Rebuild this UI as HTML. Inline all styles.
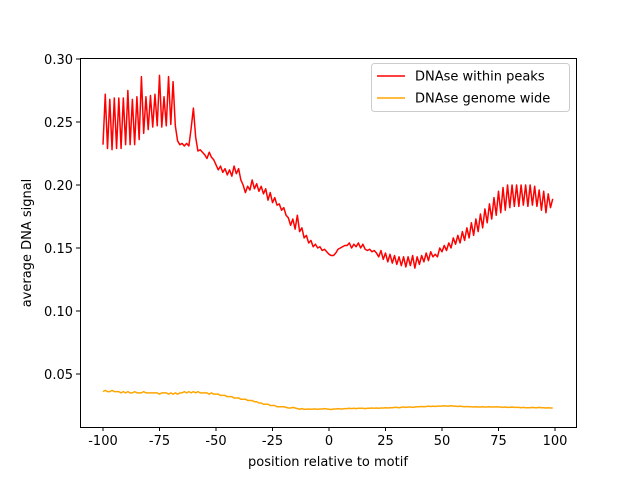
<!DOCTYPE html>
<html><head><meta charset="utf-8"><style>
body{margin:0;background:#fff}
svg text{font-family:"DejaVu Sans","Liberation Sans",sans-serif;font-size:13px;fill:#000}
</style></head><body>
<svg id="chart" width="640" height="480" xmlns="http://www.w3.org/2000/svg">
<g id="axes"></g>
<g id="series"></g>
<g id="legend">
<rect x="371.5" y="63.5" width="198" height="48" rx="3" fill="#fff" stroke="#ccc"/>
<line x1="377" y1="76" x2="405" y2="76" stroke="red" stroke-width="1.5"/>
<text x="415" y="80.5">DNAse within peaks</text>
<line x1="377" y1="98" x2="405" y2="98" stroke="orange" stroke-width="1.5"/>
<text x="415" y="102.5">DNAse genome wide</text>
</g>
<text x="328" y="466" text-anchor="middle">position relative to motif</text>
<text transform="translate(31,243) rotate(-90)" text-anchor="middle">average DNA signal</text>
</svg>
<script>
const xTicks=[-100,-75,-50,-25,0,25,50,75,100];
const yTicks=[0.05,0.10,0.15,0.20,0.25,0.30];
const yTickLabels=["0.05","0.10","0.15","0.20","0.25","0.30"];
const peaksSignal=[0.232,0.272,0.229,0.268,0.228,0.269,0.229,0.269,0.229,0.269,0.232,0.275,0.232,0.268,0.232,0.270,0.236,0.286,0.241,0.270,0.244,0.271,0.246,0.272,0.247,0.287,0.246,0.270,0.247,0.286,0.248,0.282,0.247,0.235,0.232,0.233,0.231,0.233,0.231,0.245,
0.261,0.238,0.227,0.228,0.226,0.224,0.221,0.226,0.222,0.220,
0.216,0.212,0.215,0.210,0.213,0.208,0.212,0.207,0.215,0.209,
0.213,0.204,0.200,0.194,0.199,0.196,0.204,0.197,0.201,0.195,
0.199,0.193,0.197,0.188,0.194,0.186,0.190,0.184,0.185,0.180,
0.182,0.176,0.174,0.168,0.173,0.165,0.176,0.163,0.166,0.158,
0.160,0.154,0.156,0.151,0.153,0.150,0.151,0.148,0.149,0.147,
0.145,0.144,0.144,0.146,0.149,0.150,0.151,0.152,0.152,0.154,
0.150,0.153,0.151,0.154,0.150,0.153,0.149,0.148,0.149,0.147,
0.148,0.146,0.143,0.148,0.141,0.146,0.139,0.145,0.138,0.144,
0.137,0.143,0.136,0.143,0.135,0.143,0.136,0.144,0.134,0.143,
0.137,0.144,0.139,0.146,0.140,0.147,0.143,0.145,0.143,0.150,
0.147,0.152,0.148,0.154,0.150,0.158,0.153,0.160,0.154,0.163,
0.156,0.166,0.158,0.170,0.160,0.173,0.163,0.177,0.166,0.181,
0.170,0.185,0.173,0.190,0.176,0.195,0.178,0.198,0.180,0.200,
0.182,0.200,0.183,0.200,0.183,0.200,0.184,0.200,0.183,0.200,
0.184,0.199,0.183,0.196,0.180,0.195,0.178,0.193,0.182,0.189];
const genomeSignal=[0.036,0.037,0.036,0.036,0.037,0.036,0.036,0.036,0.035,0.036,0.035,0.036,0.035,0.035,0.036,0.035,0.035,0.035,0.036,0.035,
0.035,0.035,0.035,0.035,0.035,0.034,0.035,0.035,0.035,0.034,0.035,0.034,0.035,0.034,0.035,0.035,0.036,0.035,0.036,0.035,
0.036,0.035,0.036,0.035,0.035,0.035,0.035,0.034,0.035,0.034,0.034,0.034,0.033,0.033,0.033,0.032,0.032,0.032,0.031,0.031,
0.031,0.030,0.030,0.030,0.029,0.029,0.029,0.028,0.028,0.027,0.027,0.026,0.026,0.026,0.025,0.025,0.025,0.024,0.024,0.024,
0.024,0.0235,0.023,0.023,0.0235,0.023,0.0225,0.022,0.0225,0.022,0.022,0.0222,0.022,0.0222,0.0222,0.022,0.0222,0.0222,0.0225,0.0222,
0.022,0.0218,0.0222,0.0222,0.0225,0.0222,0.0222,0.0225,0.0225,0.0228,0.0225,0.0228,0.0225,0.0228,0.0228,0.0228,0.0225,0.0228,0.0228,0.023,
0.0228,0.023,0.0228,0.023,0.023,0.0232,0.023,0.0232,0.0232,0.0235,0.0235,0.0232,0.0235,0.0238,0.0235,0.0238,0.0238,0.0235,0.0238,0.024,
0.024,0.0242,0.024,0.0242,0.0245,0.0242,0.0245,0.0242,0.0245,0.0245,0.0245,0.0248,0.0245,0.0245,0.0248,0.0245,0.0245,0.0242,0.0245,0.0242,
0.024,0.0242,0.024,0.024,0.0238,0.024,0.0238,0.0238,0.024,0.0238,0.0238,0.024,0.0238,0.0238,0.024,0.0238,0.0238,0.0235,0.0238,0.0235,
0.0235,0.0238,0.0235,0.0235,0.0235,0.0232,0.0235,0.0232,0.0232,0.0232,0.0235,0.0232,0.0232,0.0235,0.0232,0.0232,0.023,0.0232,0.023,0.023];
const NS="http://www.w3.org/2000/svg";
const L=80,R=576,T=58,B=427;
const xs=v=>103+(v+100)*2.26;
const ys=v=>374-(v-0.05)*1260;
const ax=document.getElementById('axes'),se=document.getElementById('series');
function mk(tag,attrs,parent){const e=document.createElementNS(NS,tag);for(const k in attrs)e.setAttribute(k,attrs[k]);parent.appendChild(e);return e;}
const frame=mk('rect',{x:L+.5,y:T+.5,width:R-L,height:B-T,fill:'none',stroke:'#000','stroke-width':1},ax);


xTicks.forEach(t=>{const x=xs(t);
const tk=mk('line',{x1:x,y1:B,x2:x,y2:B+4,stroke:'#000'},ax);


const tx=mk('text',{x:x,y:B+18,'text-anchor':'middle'},ax);tx.textContent=String(t);

});
yTicks.forEach((t,i)=>{const y=ys(t);
const tk=mk('line',{x1:L-4,y1:y,x2:L,y2:y,stroke:'#000'},ax);


const tx=mk('text',{x:L-7,y:y+5,'text-anchor':'end'},ax);tx.textContent=yTickLabels[i];

});
function line(data,color,name){const pts=data.map((v,i)=>xs(i-100).toFixed(2)+','+ys(v).toFixed(2)).join(' ');
const p=mk('polyline',{points:pts,fill:'none',stroke:color,'stroke-width':1.5,'stroke-linejoin':'round'},se);

}
line(genomeSignal,'orange','genome-wide-line');
line(peaksSignal,'red','within-peaks-line');
</script>
</body></html>
